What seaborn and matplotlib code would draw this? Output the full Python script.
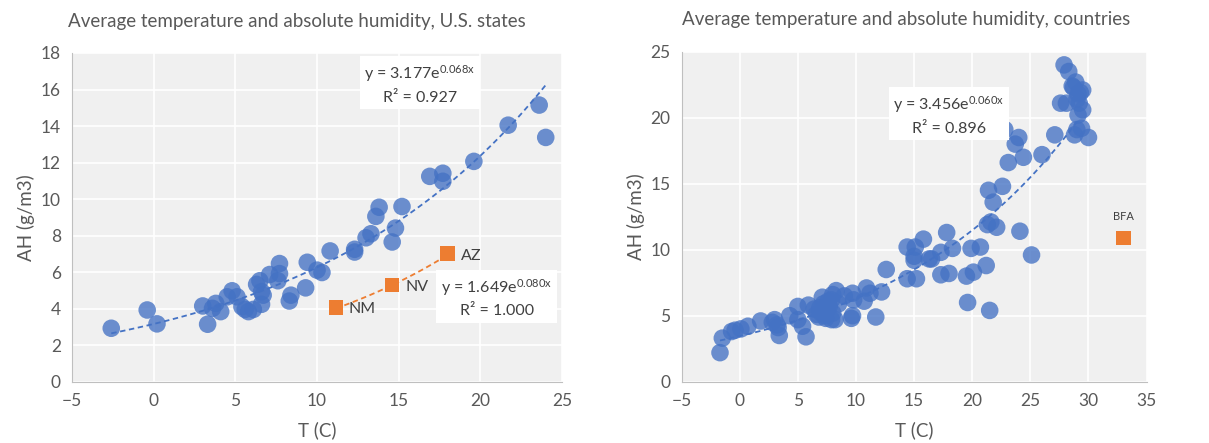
import numpy as np
import pandas as pd
import matplotlib.pyplot as plt
import seaborn as sns

# U.S. states: mean temperature (C) and absolute humidity (g/m3)
us_temp = [-2.6, -0.4, 0.2, 3.0, 3.3, 3.6, 3.8, 4.1, 4.5, 4.8, 5.1, 5.4, 5.6, 5.8, 6.1,
           6.3, 6.5, 6.6, 6.7, 6.6, 7.1, 7.6, 7.7, 7.7, 8.3, 8.4, 9.3, 9.4, 10.0, 10.3,
           10.8, 12.3, 12.3, 13.0, 13.3, 13.6, 13.8, 14.6, 14.8, 15.2, 16.9, 17.7, 17.7,
           19.6, 21.7, 23.6, 24.0]
us_ah = [2.94, 3.94, 3.18, 4.16, 3.16, 4.03, 4.30, 3.85, 4.66, 4.99, 4.66, 4.12, 3.97,
         3.85, 3.97, 5.34, 5.54, 4.94, 4.75, 4.25, 5.88, 5.54, 5.93, 6.48, 4.43, 4.75,
         5.15, 6.55, 6.12, 5.99, 7.17, 7.26, 7.11, 7.89, 8.11, 9.06, 9.56, 7.66, 8.42,
         9.60, 11.25, 11.42, 10.98, 12.07, 14.05, 15.15, 13.38]

sw_states = ["NM", "NV", "AZ"]
sw_temp = [11.15, 14.6, 18.0]
sw_ah = [4.07, 5.30, 7.02]

# countries
ct_temp = [-1.7, -1.5, -0.7, -0.4, 0.1, 0.7, 1.8, 2.8, 3.0, 3.2, 3.3, 3.4, 4.3, 5.0,
           5.0, 5.4, 5.7, 5.9, 6.4, 6.6, 7.1, 7.2, 7.2, 7.4, 7.5, 7.7, 7.9, 8.0, 7.9,
           8.2, 8.3, 8.5, 6.9, 7.3, 7.6, 7.0, 8.0, 6.8, 9.0, 9.7, 9.6, 9.7, 9.8, 10.7,
           10.9, 11.2, 11.7, 12.2, 12.6, 14.4, 14.4, 15.2, 15.0, 15.0, 15.1, 15.8, 16.3,
           16.5, 17.3, 17.3, 17.8, 18.0, 18.3, 19.5, 19.6, 19.9, 20.1, 20.7, 21.2, 21.3,
           21.4, 21.5, 21.6, 21.8, 22.1, 22.6, 22.8, 23.1, 23.7, 24.0, 24.1, 24.4, 25.1,
           26.0, 27.1, 27.6, 28.1, 27.9, 28.3, 28.6, 28.9, 28.8, 29.0, 29.1, 29.1, 29.2,
           29.5, 29.5, 29.4, 30.0, 28.7, 29.0, 29.3]
ct_ah = [2.2, 3.3, 3.8, 3.9, 4.0, 4.2, 4.6, 4.5, 4.7, 4.3, 4.1, 3.5, 5.0, 5.7, 4.7, 4.2,
         3.4, 5.8, 5.5, 5.1, 6.4, 5.9, 5.3, 4.8, 5.4, 5.7, 6.2, 6.6, 4.7, 4.7, 6.9, 5.9,
         5.6, 5.0, 6.1, 5.2, 5.2, 4.9, 6.5, 6.7, 4.8, 5.0, 6.2, 6.1, 7.1, 6.7, 4.9, 6.8,
         8.5, 7.8, 10.2, 7.8, 9.2, 9.5, 10.2, 10.8, 9.3, 9.3, 9.8, 8.1, 11.3, 8.2, 10.1,
         8.0, 6.0, 10.1, 8.3, 10.2, 8.8, 11.9, 14.5, 5.4, 12.1, 13.6, 11.7, 14.8, 19.1,
         16.6, 18.0, 18.5, 11.4, 17.0, 9.6, 17.2, 18.7, 21.1, 21.1, 24.0, 23.5, 22.4,
         22.7, 18.7, 19.1, 20.2, 21.8, 21.1, 20.6, 22.1, 19.2, 18.5, 22.3, 21.4, 21.9]

bfa_temp = [33.0]
bfa_ah = [10.9]

# exponential fits shown on the chart: y = a * exp(b * x)
us_fit = (3.177, 0.068, 0.927)
sw_fit = (1.649, 0.080, 1.000)
ct_fit = (3.456, 0.060, 0.896)

blue = "#4472C4"
orange = "#ED7D31"
grey = "#595959"

sns.set_style("whitegrid", {"axes.facecolor": "#F0F0F0", "grid.color": "white",
                            "axes.edgecolor": "#BFBFBF"})
plt.rcParams["font.family"] = ["Lato", "DejaVu Sans"]
plt.rcParams["mathtext.fontset"] = "custom"
plt.rcParams["mathtext.rm"] = "Lato"
plt.rcParams["mathtext.it"] = "Lato"

fig = plt.figure(figsize=(12.09, 4.43), dpi=100)
ax1 = fig.add_axes([0.0596, 0.1377, 0.4053, 0.7427])
ax2 = fig.add_axes([0.5638, 0.1384, 0.3846, 0.7449])


def fit_curve(fit, x0, x1):
    a, b, _ = fit
    xs = np.linspace(x0, x1, 100)
    return pd.DataFrame({"x": xs, "y": a * np.exp(b * xs)})


def eq_label(ax, fit, x, y):
    a, b, r2 = fit
    txt = f"y = {a:.3f}e$^{{{b:.3f}x}}$\nR² = {r2:.3f}"
    ax.text(x, y, txt, ha="center", va="center", fontsize=11.5, color="#404040",
            linespacing=1.55,
            bbox=dict(boxstyle="square,pad=0.3", fc="white", ec="none"))


# left: U.S. states
us = pd.DataFrame({"T": us_temp, "AH": us_ah})
sw = pd.DataFrame({"T": sw_temp, "AH": sw_ah})
c = fit_curve(us_fit, min(us_temp), max(us_temp))
sns.lineplot(data=c, x="x", y="y", ax=ax1, color=blue, lw=1.3, ls=(0, (3, 2)), zorder=3)
sns.scatterplot(data=us, x="T", y="AH", ax=ax1, color=blue, s=160, alpha=0.78,
                edgecolor="none", zorder=2)
c = fit_curve(sw_fit, min(sw_temp), max(sw_temp))
sns.lineplot(data=c, x="x", y="y", ax=ax1, color=orange, lw=1.3, ls=(0, (3, 2)), zorder=3)
sns.scatterplot(data=sw, x="T", y="AH", ax=ax1, color=orange, marker="s", s=110,
                edgecolor="none", zorder=4)
for name, t, h in zip(sw_states, sw_temp, sw_ah):
    ax1.text(t + 0.8, h - 0.1, name, fontsize=11.5, color="#404040", va="center")
eq_label(ax1, us_fit, 16.3, 16.3)
eq_label(ax1, sw_fit, 21.0, 4.6)

ax1.set_xlim(-5, 25)
ax1.set_ylim(0, 18)
ax1.set_xticks(range(-5, 26, 5))
ax1.set_yticks(range(0, 19, 2))
ax1.set_title("Average temperature and absolute humidity, U.S. states",
              loc="left", x=-0.008, y=1.055, fontsize=13.5, color=grey)

# right: countries
ct = pd.DataFrame({"T": ct_temp, "AH": ct_ah})
bfa = pd.DataFrame({"T": bfa_temp, "AH": bfa_ah})
c = fit_curve(ct_fit, min(ct_temp), 29.0)
sns.lineplot(data=c, x="x", y="y", ax=ax2, color=blue, lw=1.3, ls=(0, (3, 2)), zorder=3)
sns.scatterplot(data=ct, x="T", y="AH", ax=ax2, color=blue, s=160, alpha=0.78,
                edgecolor="none", zorder=2)
sns.scatterplot(data=bfa, x="T", y="AH", ax=ax2, color=orange, marker="s", s=110,
                edgecolor="none", zorder=4)
ax2.text(bfa_temp[0], bfa_ah[0] + 1.35, "BFA", fontsize=8, color="#404040", ha="center")
eq_label(ax2, ct_fit, 18.0, 20.2)

ax2.set_xlim(-5, 35)
ax2.set_ylim(0, 25)
ax2.set_xticks(range(-5, 36, 5))
ax2.set_yticks(range(0, 26, 5))
ax2.set_title("Average temperature and absolute humidity, countries",
              loc="left", x=0.0, y=1.055, fontsize=13.5, color=grey)

for ax in (ax1, ax2):
    ax.set_xlabel("T (C)", fontsize=13.5, color=grey, labelpad=9)
    ax.set_ylabel("AH (g/m3)", fontsize=13.5, color=grey, labelpad=4)
    ax.tick_params(axis="both", labelsize=12.5, colors=grey, length=0, pad=8)
    ax.grid(True, color="white", lw=1.2)
    ax.set_axisbelow(True)
    for s in ("top", "right"):
        ax.spines[s].set_visible(False)
    ax.spines["left"].set_color("#BFBFBF")
    ax.spines["bottom"].set_color("#BFBFBF")

fig.savefig("out.png", dpi=100)
